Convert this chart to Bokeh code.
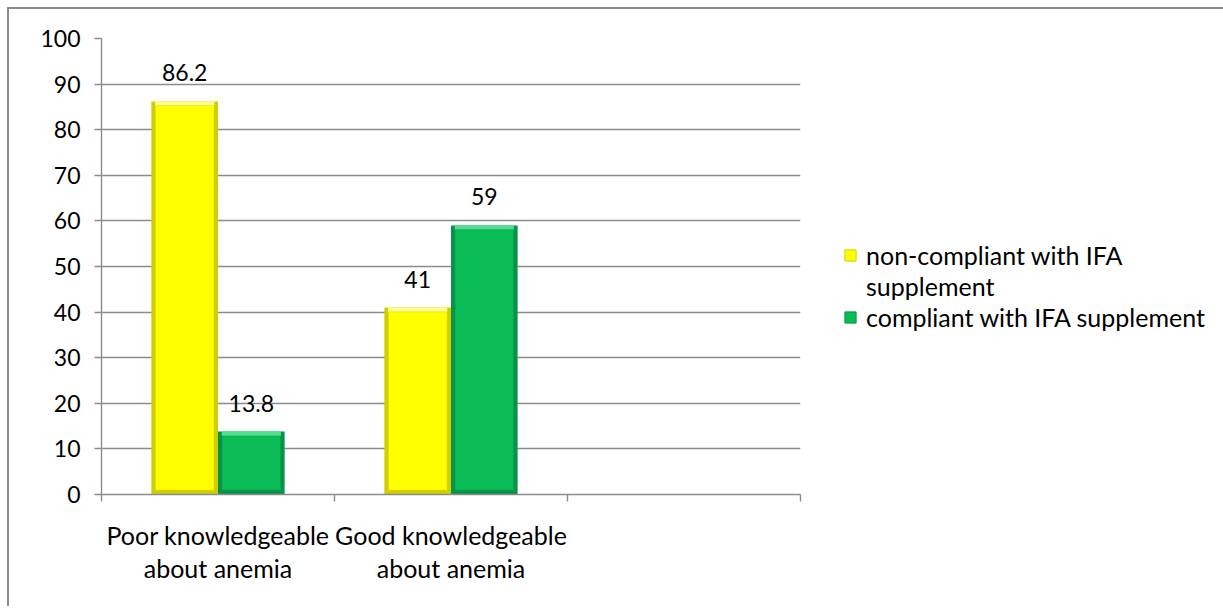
from bokeh.plotting import figure
from bokeh.models import (FixedTicker, LinearAxis, Legend, LegendItem, Range1d,
                          ColumnDataSource, LabelSet)
from bokeh.core.properties import value
from bokeh.embed import file_html
from bokeh.resources import INLINE

categories = ["Poor knowledgeable\nabout anemia", "Good knowledgeable\nabout anemia", ""]
series_names = ["non-compliant with IFA\nsupplement", "compliant with IFA supplement"]
noncompliant = [86.2, 41]
compliant = [13.8, 59]
y_ticks = [0, 10, 20, 30, 40, 50, 60, 70, 80, 90, 100]

FONT = "Lato"
GRID = "#8C8C8C"
YELLOW = "#FFFF00"
YELLOW_EDGE = "#CFCF00"
YELLOW_HI = "#FFFF8A"
GREEN = "#0ABB56"
GREEN_EDGE = "#07944A"
GREEN_HI = "#4FE08F"

n = len(noncompliant)
centers = [i + 0.5 for i in range(n)]
bw = 0.286
bev_x = 0.016   # bevel width in x units
bev_y = 0.9     # bevel height in y units

p = figure(frame_width=699, frame_height=456, output_backend="svg", toolbar_location=None,
           x_range=Range1d(0, len(categories)), y_range=Range1d(0, 100),
           min_border_left=92, min_border_top=29, min_border_bottom=112, min_border_right=420)
p.margin = (7, 0, 0, 7)
p.styles = {"border-left": "2px solid #8C8C8C", "border-top": "2px solid #8C8C8C"}
p.outline_line_color = None
p.background_fill_color = "white"
p.border_fill_color = "white"

# grid
p.xgrid.visible = False
p.ygrid.ticker = FixedTicker(ticks=y_ticks)
p.ygrid.grid_line_color = GRID
p.ygrid.grid_line_width = 1.4

# y axis
p.yaxis.ticker = FixedTicker(ticks=y_ticks)
p.yaxis.axis_line_color = GRID
p.yaxis.axis_line_width = 1.4
p.yaxis.major_tick_line_color = GRID
p.yaxis.major_tick_line_width = 1.4
p.yaxis.major_tick_out = 7
p.yaxis.major_tick_in = 0
p.yaxis.minor_tick_line_color = None
p.yaxis.major_label_text_font = FONT
p.yaxis.major_label_text_font_size = "23px"
p.yaxis.major_label_text_color = "black"
p.yaxis.major_label_standoff = 14

# x axis: boundary ticks
bounds = list(range(len(categories) + 1))
p.xaxis.ticker = FixedTicker(ticks=bounds)
p.xaxis.major_label_overrides = {b: "" for b in bounds}
p.xaxis.axis_line_color = GRID
p.xaxis.axis_line_width = 1.4
p.xaxis.major_tick_line_color = GRID
p.xaxis.major_tick_line_width = 1.4
p.xaxis.major_tick_out = 7
p.xaxis.major_tick_in = 0
p.xaxis.minor_tick_line_color = None
p.xaxis.major_label_standoff = 0
p.xaxis.major_label_text_font_size = "1px"

# x axis: category labels
cat_pos = [i + 0.5 for i in range(len(categories))]
cat_axis = LinearAxis(ticker=FixedTicker(ticks=cat_pos),
                      major_label_overrides={c: lab for c, lab in zip(cat_pos, categories)},
                      axis_line_color=None, major_tick_line_color=None,
                      minor_tick_line_color=None,
                      major_label_text_font=FONT, major_label_text_font_size="25px",
                      major_label_text_line_height=1.12,
                      major_label_text_color="black", major_label_standoff=12)
p.add_layout(cat_axis, "below")

x1 = [c - bw / 2 for c in centers]
x2 = [c + bw / 2 for c in centers]
src = ColumnDataSource(dict(
    x1=x1, x2=x2, non=noncompliant, comp=compliant,
    non_in=[v - bev_y for v in noncompliant], comp_in=[v - bev_y for v in compliant],
    non_lab=[f"{v:g}" for v in noncompliant], comp_lab=[f"{v:g}" for v in compliant],
))

# bars with a simple bevel: darker frame, bright face, light top edge
p.vbar(x="x1", width=bw, top="non", bottom=0, source=src,
       fill_color=YELLOW_EDGE, line_color=None)
r1 = p.vbar(x="x1", width=bw - 2 * bev_x, top="non_in", bottom=bev_y, source=src,
            fill_color=YELLOW, line_color=YELLOW_EDGE, line_width=1)
p.vbar(x="x1", width=bw - 2 * bev_x, top="non", bottom="non_in", source=src,
       fill_color=YELLOW_HI, line_color=None)
p.vbar(x="x2", width=bw, top="comp", bottom=0, source=src,
       fill_color=GREEN_EDGE, line_color=None)
r2 = p.vbar(x="x2", width=bw - 2 * bev_x, top="comp_in", bottom=bev_y, source=src,
            fill_color=GREEN, line_color=GREEN_EDGE, line_width=1)
p.vbar(x="x2", width=bw - 2 * bev_x, top="comp", bottom="comp_in", source=src,
       fill_color=GREEN_HI, line_color=None)
# invisible renderer used only for the wrapped second line of the first legend entry
r_blank = p.vbar(x="x1", width=bw, top="non", bottom=0, source=src,
                 fill_alpha=0, line_alpha=0)

for xf, yf, lf in (("x1", "non", "non_lab"), ("x2", "comp", "comp_lab")):
    ls = LabelSet(x=xf, y=yf, text=lf, source=src, text_align="center",
                  text_baseline="bottom", y_offset=20, text_font=value(FONT),
                  text_font_size="23px", text_color="black")
    p.add_layout(ls)

name1_lines = series_names[0].split("\n")
legend = Legend(items=[LegendItem(label=name1_lines[0], renderers=[r1]),
                       LegendItem(label=name1_lines[1], renderers=[r_blank]),
                       LegendItem(label=series_names[1], renderers=[r2])],
                location=(43, 162), orientation="vertical",
                label_text_font=FONT, label_text_font_size="25px",
                label_text_color="black", label_height=26,
                glyph_width=14, glyph_height=14, label_standoff=9,
                spacing=1, padding=0, margin=0,
                border_line_color=None, background_fill_alpha=0)
p.add_layout(legend, "right")

open("out.html", "w").write(file_html(p, INLINE))
